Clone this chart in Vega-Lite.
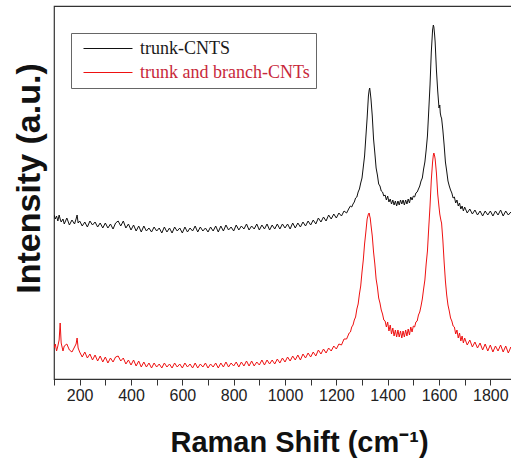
{
  "$schema": "https://vega.github.io/schema/vega-lite/v6.json",
  "width": 462,
  "height": 373,
  "autosize": {"type": "none"},
  "padding": {"left": 54, "top": 6, "right": 0, "bottom": 80},
  "background": "white",
  "config": {"view": {"stroke": "#333333", "strokeWidth": 1.2}},
  "data": {"values": [
    {"x":100,"a":164,"b":31},{"x":105,"a":160,"b":35},{"x":110,"a":163,"b":28},{"x":115,"a":158,"b":33},{"x":120,"a":164,"b":39},{"x":124,"a":160,"b":56},{"x":128,"a":157,"b":36},{"x":135,"a":160,"b":28},{"x":140,"a":155,"b":33},{"x":150,"a":161,"b":35},{"x":160,"a":154,"b":29},{"x":170,"a":159,"b":27},{"x":180,"a":155,"b":32},{"x":186,"a":160,"b":35},{"x":190,"a":164,"b":41},{"x":194,"a":156,"b":31},
    {"x":200,"a":158,"b":27},{"x":210,"a":153,"b":22},{"x":220,"a":157,"b":27},{"x":230,"a":152,"b":21},{"x":240,"a":158,"b":25},{"x":250,"a":154,"b":19},{"x":260,"a":157,"b":24},{"x":270,"a":152,"b":18},{"x":280,"a":156,"b":23},{"x":290,"a":151,"b":17},
    {"x":300,"a":156,"b":22},{"x":310,"a":151,"b":16},{"x":320,"a":155,"b":21},{"x":330,"a":150,"b":17},{"x":340,"a":156,"b":22},{"x":350,"a":158,"b":23},{"x":360,"a":153,"b":18},{"x":370,"a":158,"b":21},{"x":380,"a":151,"b":15},{"x":390,"a":155,"b":19},
    {"x":400,"a":149,"b":14},{"x":410,"a":154,"b":19},{"x":420,"a":148,"b":13},{"x":430,"a":153,"b":18},{"x":440,"a":147,"b":12},{"x":450,"a":153,"b":17},{"x":460,"a":148,"b":12},{"x":470,"a":151,"b":16},{"x":480,"a":147,"b":11},{"x":490,"a":152,"b":16},
    {"x":500,"a":148,"b":12},{"x":510,"a":151,"b":15},{"x":520,"a":146,"b":11},{"x":530,"a":152,"b":16},{"x":540,"a":147,"b":12},{"x":550,"a":151,"b":15},{"x":560,"a":146,"b":11},{"x":570,"a":152,"b":16},{"x":580,"a":148,"b":12},{"x":590,"a":151,"b":15},
    {"x":600,"a":146,"b":11},{"x":610,"a":152,"b":16},{"x":620,"a":147,"b":12},{"x":630,"a":151,"b":15},{"x":640,"a":148,"b":11},{"x":650,"a":153,"b":16},{"x":660,"a":147,"b":11},{"x":670,"a":152,"b":15},{"x":680,"a":148,"b":12},{"x":690,"a":151,"b":16},
    {"x":700,"a":147,"b":11},{"x":710,"a":152,"b":15},{"x":720,"a":148,"b":12},{"x":730,"a":153,"b":16},{"x":740,"a":147,"b":11},{"x":750,"a":153,"b":16},{"x":760,"a":148,"b":12},{"x":770,"a":154,"b":17},{"x":780,"a":149,"b":12},{"x":790,"a":152,"b":16},
    {"x":800,"a":148,"b":13},{"x":810,"a":154,"b":17},{"x":820,"a":149,"b":12},{"x":830,"a":153,"b":17},{"x":840,"a":150,"b":13},{"x":850,"a":155,"b":18},{"x":860,"a":149,"b":13},{"x":870,"a":153,"b":18},{"x":880,"a":150,"b":13},{"x":890,"a":155,"b":17},
    {"x":900,"a":149,"b":14},{"x":910,"a":154,"b":19},{"x":920,"a":150,"b":14},{"x":930,"a":155,"b":19},{"x":940,"a":149,"b":15},{"x":950,"a":154,"b":19},{"x":960,"a":150,"b":15},{"x":970,"a":155,"b":20},{"x":980,"a":150,"b":16},{"x":990,"a":155,"b":21},
    {"x":1000,"a":151,"b":17},{"x":1010,"a":155,"b":22},{"x":1020,"a":150,"b":18},{"x":1030,"a":156,"b":23},{"x":1040,"a":151,"b":19},{"x":1050,"a":156,"b":24},{"x":1060,"a":152,"b":19},{"x":1070,"a":157,"b":25},{"x":1080,"a":153,"b":21},{"x":1090,"a":158,"b":26},
    {"x":1100,"a":154,"b":22},{"x":1110,"a":159,"b":27},{"x":1120,"a":155,"b":23},{"x":1130,"a":161,"b":29},{"x":1140,"a":157,"b":25},{"x":1150,"a":162,"b":30},{"x":1160,"a":158,"b":26},{"x":1170,"a":164,"b":31},{"x":1180,"a":160,"b":28},{"x":1190,"a":165,"b":33},
    {"x":1200,"a":161,"b":30},{"x":1210,"a":166,"b":35},{"x":1220,"a":163,"b":34},{"x":1230,"a":168,"b":40},{"x":1240,"a":166,"b":40},{"x":1250,"a":171,"b":46},{"x":1255,"a":173,"b":47},{"x":1260,"a":172,"b":52},{"x":1265,"a":175,"b":54},{"x":1270,"a":177,"b":59},{"x":1275,"a":181,"b":62},{"x":1280,"a":182,"b":70},{"x":1285,"a":187,"b":75},{"x":1290,"a":190,"b":85},{"x":1295,"a":196,"b":93},
    {"x":1300,"a":201,"b":107},{"x":1305,"a":212,"b":119},{"x":1310,"a":223,"b":135},{"x":1315,"a":242,"b":147},{"x":1320,"a":261,"b":160},{"x":1325,"a":283,"b":165},{"x":1328,"a":289,"b":166},{"x":1330,"a":291,"b":163},{"x":1332,"a":287,"b":161},{"x":1335,"a":280,"b":154},{"x":1340,"a":263,"b":143},{"x":1345,"a":240,"b":127},{"x":1350,"a":226,"b":115},{"x":1355,"a":211,"b":100},{"x":1360,"a":204,"b":92},{"x":1365,"a":195,"b":81},{"x":1370,"a":193,"b":76},{"x":1375,"a":188,"b":69},{"x":1380,"a":187,"b":65},{"x":1385,"a":183,"b":59},{"x":1390,"a":184,"b":58},{"x":1395,"a":179,"b":52},
    {"x":1400,"a":183,"b":57},{"x":1405,"a":177,"b":48},{"x":1410,"a":180,"b":54},{"x":1415,"a":175,"b":45},{"x":1420,"a":179,"b":51},{"x":1425,"a":174,"b":43},{"x":1430,"a":178,"b":49},{"x":1435,"a":173,"b":42},{"x":1440,"a":178,"b":49},{"x":1445,"a":174,"b":42},{"x":1450,"a":179,"b":48},{"x":1455,"a":175,"b":41},{"x":1460,"a":179,"b":48},{"x":1465,"a":174,"b":42},{"x":1470,"a":179,"b":49},{"x":1475,"a":175,"b":43},{"x":1480,"a":180,"b":50},{"x":1485,"a":176,"b":44},{"x":1490,"a":182,"b":52},{"x":1495,"a":179,"b":47},
    {"x":1500,"a":183,"b":53},{"x":1505,"a":182,"b":52},{"x":1510,"a":186,"b":57},{"x":1515,"a":187,"b":58},{"x":1520,"a":190,"b":64},{"x":1525,"a":193,"b":67},{"x":1530,"a":198,"b":73},{"x":1535,"a":201,"b":80},{"x":1540,"a":210,"b":90},{"x":1545,"a":217,"b":99},{"x":1550,"a":229,"b":115},{"x":1555,"a":243,"b":128},{"x":1560,"a":268,"b":151},{"x":1565,"a":294,"b":173},{"x":1570,"a":327,"b":199},{"x":1575,"a":349,"b":217},{"x":1578,"a":354,"b":224},{"x":1580,"a":352,"b":226},{"x":1583,"a":344,"b":223},{"x":1585,"a":337,"b":220},{"x":1590,"a":309,"b":206},{"x":1595,"a":288,"b":185},
    {"x":1600,"a":271,"b":172},{"x":1603,"a":274,"b":165},{"x":1605,"a":266,"b":162},{"x":1608,"a":262,"b":158},{"x":1610,"a":261,"b":156},{"x":1615,"a":249,"b":139},{"x":1620,"a":234,"b":117},{"x":1625,"a":217,"b":98},{"x":1630,"a":208,"b":84},{"x":1635,"a":198,"b":74},{"x":1640,"a":193,"b":68},{"x":1645,"a":189,"b":61},{"x":1650,"a":186,"b":58},{"x":1655,"a":181,"b":53},{"x":1660,"a":182,"b":52},{"x":1665,"a":176,"b":45},{"x":1670,"a":179,"b":49},{"x":1675,"a":173,"b":41},{"x":1680,"a":176,"b":46},{"x":1685,"a":170,"b":38},{"x":1690,"a":173,"b":43},{"x":1695,"a":168,"b":36},
    {"x":1700,"a":172,"b":41},{"x":1710,"a":166,"b":34},{"x":1720,"a":170,"b":39},{"x":1730,"a":165,"b":32},{"x":1740,"a":169,"b":37},{"x":1750,"a":164,"b":31},{"x":1760,"a":168,"b":36},{"x":1770,"a":163,"b":29},{"x":1780,"a":168,"b":35},{"x":1790,"a":164,"b":28},
    {"x":1800,"a":168,"b":34},{"x":1810,"a":163,"b":27},{"x":1820,"a":168,"b":33},{"x":1830,"a":164,"b":28},{"x":1840,"a":169,"b":34},{"x":1850,"a":163,"b":27},{"x":1860,"a":168,"b":33},{"x":1870,"a":164,"b":26},{"x":1880,"a":167,"b":32},{"x":1890,"a":163,"b":27}
  ]},
  "transform": [{"fold": ["a", "b"], "as": ["s", "v"]}],
  "mark": {"type": "line", "strokeWidth": 1, "clip": true},
  "encoding": {
    "x": {
      "field": "x", "type": "quantitative",
      "scale": {"domain": [100, 1900], "nice": false, "zero": false},
      "axis": {
        "values": [100,200,300,400,500,600,700,800,900,1000,1100,1200,1300,1400,1500,1600,1700,1800,1900],
        "format": "d",
        "labelExpr": "(datum.value % 200 == 0 && datum.value < 1900) ? datum.label : ''",
        "labelOverlap": false,
        "labelFlush": false,
        "grid": false,
        "domainColor": "#333333",
        "tickColor": "#333333",
        "tickSize": 6,
        "labelFont": "Liberation Sans",
        "labelFontSize": 16,
        "labelColor": "#222222",
        "labelPadding": 2,
        "title": "Raman Shift (cm⁻¹)",
        "titleFont": "Liberation Sans",
        "titleFontSize": 29,
        "titleFontWeight": "bold",
        "titleColor": "#111111",
        "titlePadding": 25,
        "titleX": 245,
        "encode": {"ticks": {"update": {"y2": {"signal": "datum.value % 200 == 0 ? 6 : 3"}}}}
      }
    },
    "y": {
      "field": "v", "type": "quantitative",
      "scale": {"domain": [0, 373], "nice": false, "zero": false},
      "axis": {
        "labels": false, "ticks": false, "domain": false, "grid": false,
        "title": "Intensity (a.u.)",
        "titleFont": "Liberation Sans",
        "titleFontSize": 34,
        "titleFontWeight": "bold",
        "titleColor": "#111111",
        "titlePadding": 8,
        "titleY": 172
      }
    },
    "color": {
      "field": "s", "type": "nominal",
      "scale": {"domain": ["a", "b"], "range": ["#111111", "#ee1111"]},
      "legend": {
        "orient": "none",
        "legendX": 17,
        "legendY": 27,
        "title": null,
        "symbolType": "stroke",
        "symbolSize": 2400,
        "symbolStrokeWidth": 1,
        "clipHeight": 19,
        "labelFont": "Liberation Serif",
        "labelFontSize": 18,
        "labelLimit": 0,
        "labelOffset": 7,
        "rowPadding": 5,
        "padding": 6,
        "symbolOffset": 6,
        "strokeColor": "#666666",
        "fillColor": "white",
        "cornerRadius": 0,
        "labelExpr": "datum.value == 'a' ? 'trunk-CNTS' : 'trunk and branch-CNTs'",
        "encode": {"labels": {"update": {"fill": {"signal": "datum.value == 'a' ? '#1a1a1a' : '#c8283a'"}}}}
      }
    }
  }
}
